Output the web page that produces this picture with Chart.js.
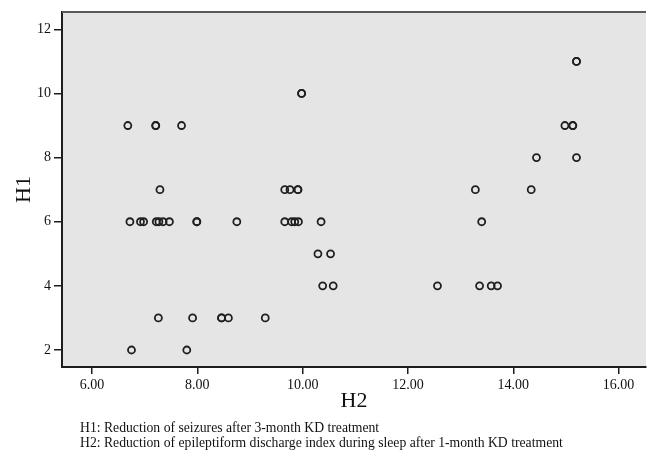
<!DOCTYPE html>
<html>
<head>
<meta charset="utf-8">
<script src="https://cdn.jsdelivr.net/npm/chart.js@4.4.1/dist/chart.umd.min.js"></script>
<style>
  html, body { margin: 0; padding: 0; background: #fff; }
  #wrap { position: relative; width: 648px; height: 454px; }
  #chart { position: absolute; left: 0; top: 0; }
  .note {
    position: absolute; left: 80px;
    font-family: "Liberation Serif", "DejaVu Serif", serif;
    font-size: 13.7px; color: #111; white-space: nowrap; line-height: 15px;
  }
</style>
</head>
<body>
<div id="wrap">
  <canvas id="chart" width="648" height="454"></canvas>
  <div class="note" style="top:420px">H1: Reduction of seizures after 3-month KD treatment</div>
  <div class="note" style="top:435px">H2: Reduction of epileptiform discharge index during sleep after 1-month KD treatment</div>
</div>
<script>
// H2 (x) and H1 (y) per patient
const h2Values = [
  15.20, 15.20,
  9.98, 9.98,
  6.68, 7.21, 7.21, 7.70, 14.98, 15.13, 15.13,
  14.44, 15.20,
  7.29, 9.66, 9.76, 9.91, 9.91, 13.28, 14.34,
  6.72, 6.92, 6.98, 7.22, 7.27, 7.35, 7.47, 7.99, 7.99, 8.75, 9.66, 9.79, 9.85, 9.92, 10.35, 13.40,
  10.29, 10.53,
  10.38, 10.58, 12.56, 13.36, 13.58, 13.70,
  7.26, 7.91, 8.46, 8.46, 8.59, 9.29,
  6.75, 7.80
]
const h1Values = [
  11, 11,
  10, 10,
  9, 9, 9, 9, 9, 9, 9,
  8, 8,
  7, 7, 7, 7, 7, 7, 7,
  6, 6, 6, 6, 6, 6, 6, 6, 6, 6, 6, 6, 6, 6, 6, 6,
  5, 5,
  4, 4, 4, 4, 4, 4,
  3, 3, 3, 3, 3, 3,
  2, 2
]
const xTicks = [6, 8, 10, 12, 14, 16]
const yTicks = [2, 4, 6, 8, 10, 12]

const serif = '"Liberation Serif", "DejaVu Serif", serif'
const points = h2Values.map((x, i) => ({ x, y: h1Values[i] }))

const plotFrame = {
  id: 'plotFrame',
  beforeDraw (chart) {
    const { ctx, chartArea: a } = chart
    ctx.save()
    ctx.fillStyle = '#e5e5e5'
    ctx.fillRect(a.left, a.top, a.right - a.left, a.bottom - a.top)
    ctx.restore()
  },
  afterDraw (chart) {
    const { ctx, chartArea: a } = chart
    ctx.save()
    ctx.strokeStyle = '#5a5a5a'
    ctx.lineWidth = 2
    ctx.beginPath()
    ctx.moveTo(a.left, a.top)
    ctx.lineTo(a.right, a.top)
    ctx.stroke()
    ctx.restore()
  }
}

new Chart(document.getElementById('chart').getContext('2d'), {
  type: 'scatter',
  data: {
    datasets: [{
      data: points,
      pointRadius: 3.5,
      pointHoverRadius: 3.5,
      borderWidth: 1.8,
      borderColor: '#1f1f1f',
      backgroundColor: 'rgba(0,0,0,0)'
    }]
  },
  options: {
    responsive: false,
    animation: false,
    layout: { autoPadding: false, padding: { top: 12, right: 2, left: 0, bottom: 0 } },
    scales: {
      x: {
        type: 'linear',
        min: 5.43,
        max: 16.52,
        afterBuildTicks: scale => { scale.ticks = xTicks.map(v => ({ value: v })) },
        afterFit: scale => { scale.height = 87 },
        border: { display: true, color: '#1e1e1e', width: 2 },
        grid: { display: true, drawOnChartArea: false, drawTicks: true, tickLength: 7, tickColor: '#1e1e1e', lineWidth: 1.5 },
        ticks: {
          padding: 3,
          color: '#111',
          font: { family: serif, size: 14 },
          callback: v => Number(v).toFixed(2)
        },
        title: {
          display: true,
          text: 'H2',
          color: '#111',
          font: { family: serif, size: 22 },
          padding: { top: 0, bottom: 40 }
        }
      },
      y: {
        type: 'linear',
        min: 1.47,
        max: 12.54,
        afterBuildTicks: scale => { scale.ticks = yTicks.map(v => ({ value: v })) },
        afterFit: scale => { scale.width = 62 },
        border: { display: true, color: '#1e1e1e', width: 2 },
        grid: { display: true, drawOnChartArea: false, drawTicks: true, tickLength: 8, tickColor: '#1e1e1e', lineWidth: 1.5 },
        ticks: {
          padding: 3,
          color: '#111',
          font: { family: serif, size: 14 },
          callback: v => String(v)
        },
        title: {
          display: true,
          text: 'H1',
          color: '#111',
          font: { family: serif, size: 22 },
          padding: { top: 11, bottom: 0 }
        }
      }
    },
    plugins: {
      legend: { display: false },
      tooltip: { enabled: false }
    }
  },
  plugins: [plotFrame]
})
</script>
</body>
</html>
